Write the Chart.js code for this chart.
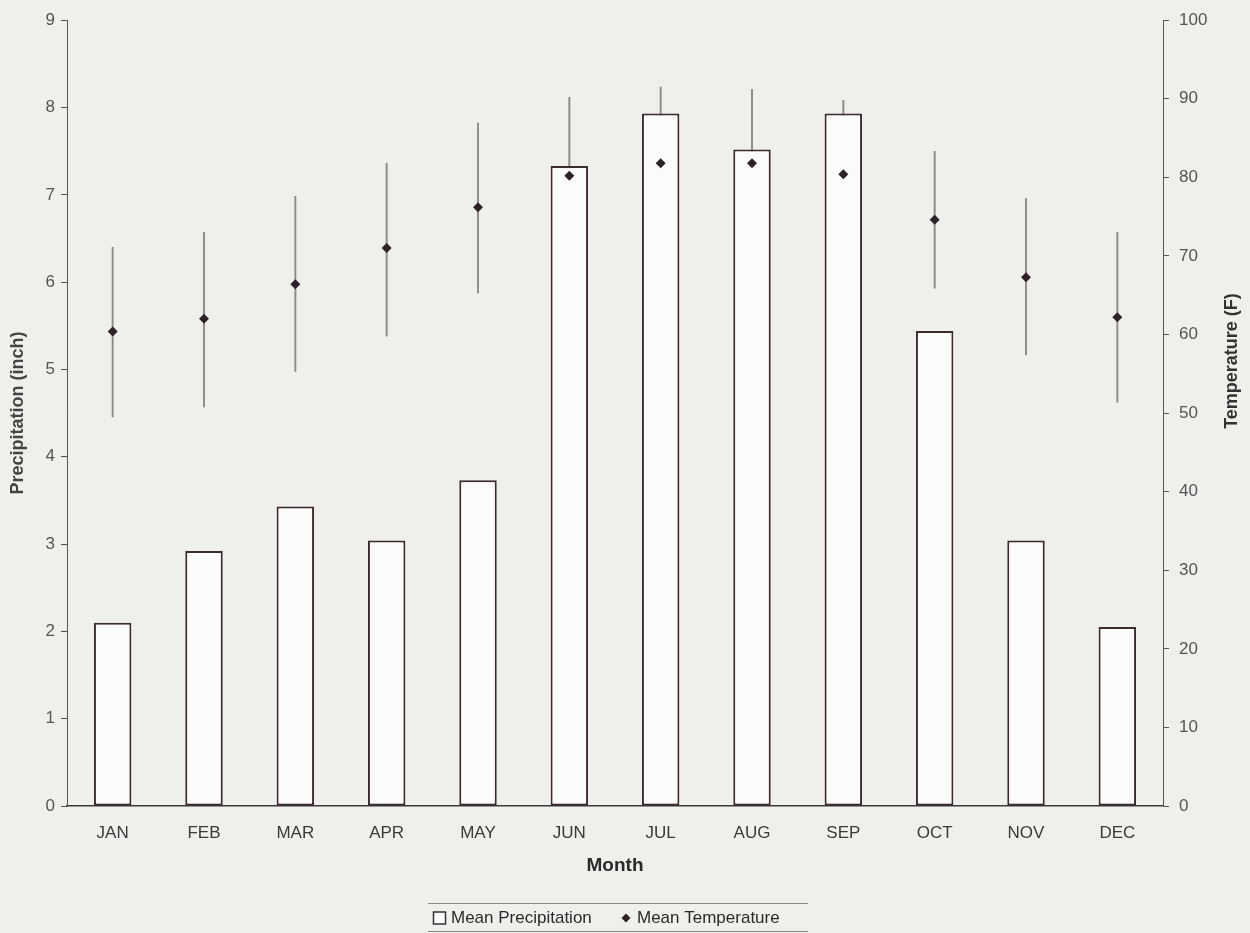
<!DOCTYPE html>
<html>
<head>
<meta charset="utf-8">
<script src="https://cdn.jsdelivr.net/npm/chart.js@4/dist/chart.umd.min.js"></script>
<style>
  html, body { margin: 0; padding: 0; background: #efefec; }
  #wrap { width: 1250px; height: 933px; }
</style>
</head>
<body>
<div id="wrap"><canvas id="c" width="1250" height="933"></canvas></div>
<script>
const months = ['JAN','FEB','MAR','APR','MAY','JUN','JUL','AUG','SEP','OCT','NOV','DEC'];
const precipitation = [2.10, 2.92, 3.43, 3.04, 3.73, 7.33, 7.93, 7.52, 7.93, 5.44, 3.04, 2.05];
const tempMean = [60.4, 62.0, 66.4, 71.0, 76.2, 80.2, 81.8, 81.8, 80.4, 74.6, 67.3, 62.2];
const tempHigh = [71.1, 73.0, 77.6, 81.8, 86.9, 90.2, 91.5, 91.2, 89.8, 83.3, 77.3, 73.0];
const tempLow  = [49.5, 50.8, 55.3, 59.8, 65.3, 69.2, 71.4, 73.0, 72.0, 65.9, 57.4, 51.4];
const precipTicks = [0,1,2,3,4,5,6,7,8,9];
const tempTicks = [0,10,20,30,40,50,60,70,80,90,100];
const rightTitle = 'Temperature (F)';

const FONT = "'Liberation Sans', Arial, Helvetica, sans-serif";
const tempRange = tempLow.map((lo, i) => [lo, tempHigh[i]]);

const bgPlugin = {
  id: 'bg',
  beforeDraw(chart) {
    const ctx = chart.ctx;
    ctx.save();
    ctx.fillStyle = '#efefec';
    ctx.fillRect(0, 0, chart.width, chart.height);
    ctx.restore();
  }
};

const extrasPlugin = {
  id: 'extras',
  afterDraw(chart) {
    const ctx = chart.ctx;
    const ds = chart.data.datasets;
    ctx.save();
    // right axis title, reading bottom-to-top
    ctx.save();
    ctx.translate(1232, 361);
    ctx.rotate(-Math.PI / 2);
    ctx.font = 'bold 18px ' + FONT;
    ctx.fillStyle = '#333';
    ctx.textAlign = 'center';
    ctx.textBaseline = 'middle';
    ctx.fillText(rightTitle, 0, 0);
    ctx.restore();

    // legend
    ctx.strokeStyle = '#8a8a88';
    ctx.lineWidth = 1;
    ctx.beginPath();
    ctx.moveTo(428, 903.5); ctx.lineTo(808, 903.5);
    ctx.moveTo(428, 931.5); ctx.lineTo(808, 931.5);
    ctx.stroke();
    const yMid = 918;
    ctx.fillStyle = '#fbfbf9';
    ctx.strokeStyle = '#333';
    ctx.lineWidth = 1.5;
    ctx.fillRect(433.5, 912, 12, 12);
    ctx.strokeRect(433.5, 912, 12, 12);
    ctx.font = '17px ' + FONT;
    ctx.fillStyle = '#2a2a2a';
    ctx.textBaseline = 'middle';
    ctx.textAlign = 'left';
    ctx.fillText(ds[0].label, 451, yMid);
    ctx.fillStyle = '#2d2326';
    ctx.beginPath();
    ctx.moveTo(626, yMid - 4.5); ctx.lineTo(630.5, yMid); ctx.lineTo(626, yMid + 4.5); ctx.lineTo(621.5, yMid);
    ctx.closePath(); ctx.fill();
    ctx.fillStyle = '#2a2a2a';
    ctx.fillText(ds[2].label, 637, yMid);
    ctx.restore();
  }
};

new Chart(document.getElementById('c'), {
  data: {
    labels: months,
    datasets: [
      {
        type: 'bar',
        label: 'Mean Precipitation',
        data: precipitation,
        yAxisID: 'y',
        backgroundColor: '#fbfbf9',
        borderColor: '#3b2a2e',
        borderWidth: 2,
        borderSkipped: false,
        barPercentage: 0.41,
        categoryPercentage: 1,
        grouped: false,
        order: 2
      },
      {
        type: 'bar',
        label: 'Temperature range',
        data: tempRange,
        yAxisID: 'y1',
        backgroundColor: '#918a8c',
        borderWidth: 0,
        barThickness: 1.3,
        grouped: false,
        order: 3
      },
      {
        type: 'line',
        label: 'Mean Temperature',
        data: tempMean,
        yAxisID: 'y1',
        showLine: false,
        pointStyle: 'rectRot',
        pointRadius: 5,
        pointHoverRadius: 5,
        pointBackgroundColor: '#2d2326',
        pointBorderColor: '#2d2326',
        pointBorderWidth: 0,
        order: 1
      }
    ]
  },
  options: {
    responsive: false,
    animation: false,
    devicePixelRatio: 1,
    layout: { padding: { top: 20, left: 0, right: 0, bottom: 56 } },
    plugins: {
      legend: { display: false },
      tooltip: { enabled: false }
    },
    scales: {
      x: {
        offset: true,
        grid: { display: false, drawTicks: false },
        border: { display: true, color: '#3a3a3a', width: 1.5 },
        ticks: { color: '#3a3a3a', font: { family: FONT, size: 17 }, padding: 17 },
        title: { display: true, text: 'Month', color: '#2a2a2a', font: { family: FONT, size: 19, weight: 'bold' }, padding: { top: 2, bottom: 0 } },
        afterFit(s) { s.height = 71; }
      },
      y: {
        position: 'left',
        min: 0, max: 9,
        afterBuildTicks(s) { s.ticks = precipTicks.map(v => ({ value: v })); },
        grid: { drawOnChartArea: false, drawTicks: true, tickLength: 6, color: '#555' },
        border: { display: true, color: '#555', width: 1 },
        ticks: { color: '#555', font: { family: FONT, size: 17 }, padding: 6 },
        title: { display: true, text: 'Precipitation (inch)', color: '#444', font: { family: FONT, size: 18, weight: 'bold' }, padding: { top: 7, bottom: 0 } },
        afterFit(s) { s.width = 67; }
      },
      y1: {
        position: 'right',
        min: 0, max: 100,
        afterBuildTicks(s) { s.ticks = tempTicks.map(v => ({ value: v })); },
        grid: { drawOnChartArea: false, drawTicks: true, tickLength: 6, color: '#555' },
        border: { display: true, color: '#555', width: 1 },
        ticks: { color: '#555', font: { family: FONT, size: 17 }, padding: 10 },
        title: { display: false, text: rightTitle },
        afterFit(s) { s.width = 87; }
      }
    }
  },
  plugins: [bgPlugin, extrasPlugin]
});
</script>
</body>
</html>
